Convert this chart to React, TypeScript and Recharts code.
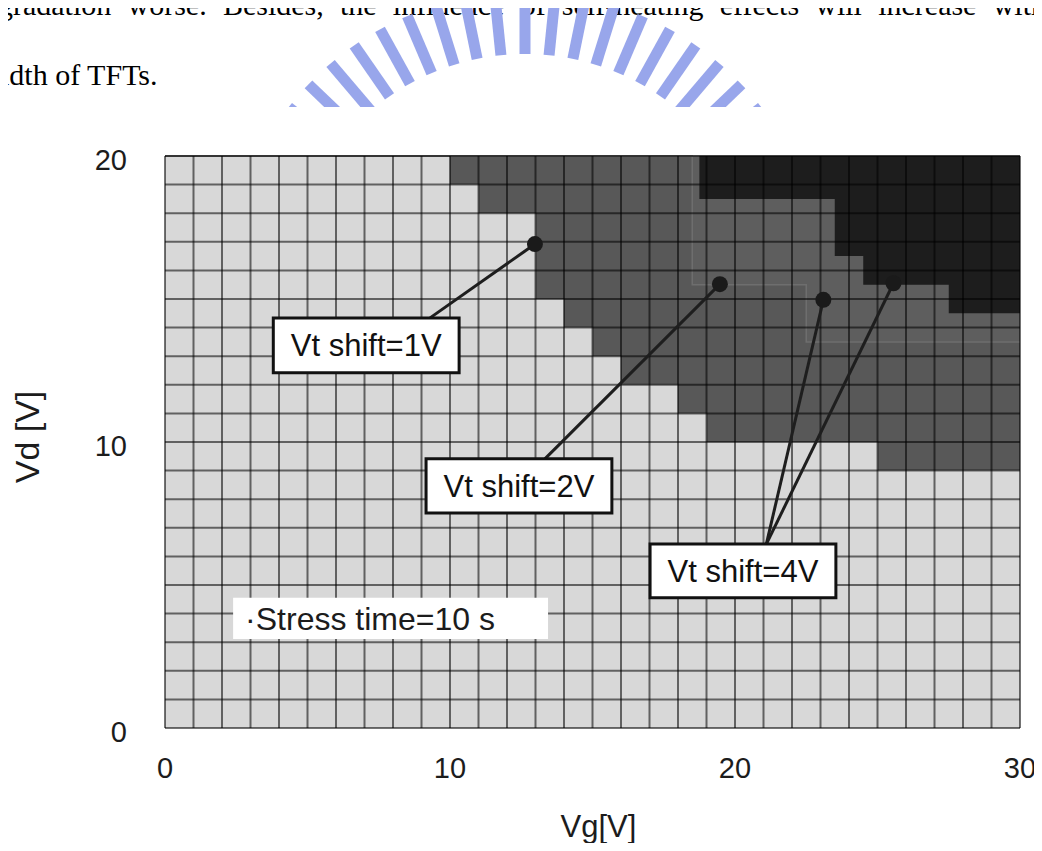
import {
    ComposedChart,
    Area,
    XAxis,
    YAxis,
    CartesianGrid,
    ReferenceArea,
    ReferenceLine,
    ReferenceDot,
} from 'recharts';

const VD_MAX = 20;

// grid / tick positions (1 V steps)
const gridVg = [0, 1, 2, 3, 4, 5, 6, 7, 8, 9, 10, 11, 12, 13, 14, 15, 16, 17, 18, 19, 20, 21, 22, 23, 24, 25, 26, 27, 28, 29, 30];
const gridVd = [0, 1, 2, 3, 4, 5, 6, 7, 8, 9, 10, 11, 12, 13, 14, 15, 16, 17, 18, 19, 20];
const labelledTicks = [0, 10, 20, 30];

// Vd where the Vt shift >= 1V region starts, per 1 V wide Vg column (0-1 ... 29-30)
const shift1Low = [20, 20, 20, 20, 20, 20, 20, 20, 20, 20, 19, 18, 18, 15, 14, 13, 12, 12, 11, 10, 10, 10, 10, 10, 10, 9, 9, 9, 9, 9];
// Vt shift >= 2V region: steps start at these Vg values
const shift2Vg = [18.5, 22.5];
const shift2Low = [15.5, 13.5];
// Vt shift >= 4V region
const shift4Vg = [18.75, 23.5, 24.5, 27.5];
const shift4Low = [18.5, 16.5, 15.5, 14.5];

const callouts = [
    { text: 'Vt shift=1V', x1: 3.8, x2: 10.32, y1: 12.42, y2: 14.34, dots: [[12.98, 16.92]], end: [9.3, 14.34] },
    { text: 'Vt shift=2V', x1: 9.16, x2: 15.68, y1: 7.52, y2: 9.41, dots: [[19.47, 15.52]], end: [13.33, 9.41] },
    { text: 'Vt shift=4V', x1: 17.02, x2: 23.54, y1: 4.55, y2: 6.43, dots: [[23.1, 14.97], [25.56, 15.55]], end: [21.1, 6.43] },
];

const stepValue = (starts: number[], lows: number[], x: number) => {
    let v = VD_MAX;
    starts.forEach((s, i) => {
        if (x >= s) v = lows[i];
    });
    return v;
};

const breakVg = Array.from(new Set([...gridVg, ...shift2Vg, ...shift4Vg])).sort((a, b) => a - b);
const regionData = breakVg.map((vg) => {
    const b1 = shift1Low[Math.min(Math.floor(vg), shift1Low.length - 1)];
    return {
        vg,
        none: [0, b1],
        s1: [b1, VD_MAX],
        s2: [stepValue(shift2Vg, shift2Low, vg), VD_MAX],
        s4: [stepValue(shift4Vg, shift4Low, vg), VD_MAX],
    };
});

const XTick = ({ x, y, payload }: any) =>
    labelledTicks.includes(payload.value) ? (
        <text x={x} y={y + 50} textAnchor="middle" fontSize={29} fill="#1c1c1c">
            {payload.value}
        </text>
    ) : (
        <g />
    );

const YTick = ({ x, y, payload }: any) =>
    labelledTicks.includes(payload.value) ? (
        <text x={x - 38} y={y} dy={14} textAnchor="end" fontSize={29} fill="#1c1c1c">
            {payload.value}
        </text>
    ) : (
        <g />
    );

const pageText = (top: number): React.CSSProperties => ({
    position: 'absolute',
    left: -2,
    top,
    width: 1048,
    fontFamily: '"Liberation Serif", "Times New Roman", serif',
    fontSize: 30,
    lineHeight: '30px',
    color: '#000',
    whiteSpace: 'nowrap',
    textAlign: 'justify',
    textAlignLast: 'justify',
});

const rayAngles = [-142, -136.2, -130.4, -124.7, -118.9, -113.1, -107.3, -101.6, -95.8, -90, -84.2, -78.4, -72.7, -66.9, -61.1, -55.3, -49.6, -43.8, -38];

const App = () => {
    return (
        <div
            style={{
                position: 'relative',
                width: 1042,
                height: 851,
                margin: -8,
                overflow: 'hidden',
                background: '#fff',
                fontFamily: '"Liberation Sans", Arial, Helvetica, sans-serif',
            }}
        >
            <div style={pageText(-10)}>gradation worse. Besides, the influence of self-heating effects will increase with</div>
            <div style={{ ...pageText(60), left: 1, textAlign: 'left', textAlignLast: 'left' }}>idth of TFTs.</div>

            {/* watermark */}
            <svg width={1042} height={107} style={{ position: 'absolute', left: 0, top: 0 }}>
                {rayAngles.map((a) => {
                    const r = (a * Math.PI) / 180;
                    return (
                        <line
                            key={a}
                            x1={525 + 238 * Math.cos(r)}
                            y1={292 + 238 * Math.sin(r)}
                            x2={525 + 300 * Math.cos(r)}
                            y2={292 + 300 * Math.sin(r)}
                            stroke="#98a6eb"
                            strokeWidth={11}
                        />
                    );
                })}
            </svg>

            <div style={{ position: 'absolute', left: 0, top: 0 }}>
                <ComposedChart width={1042} height={851} data={regionData} margin={{ top: 156, right: 22, bottom: 63, left: 105 }}>
                    <XAxis
                        type="number"
                        dataKey="vg"
                        domain={[0, 30]}
                        ticks={gridVg}
                        interval={0}
                        tick={<XTick />}
                        tickLine={false}
                        axisLine={false}
                        tickSize={0}
                        tickMargin={0}
                        height={60}
                        label={{
                            content: ({ viewBox }: any) => (
                                <text x={viewBox.x + viewBox.width / 2 + 6} y={viewBox.y + 109} textAnchor="middle" fontSize={31} fill="#1c1c1c">
                                    Vg[V]
                                </text>
                            ),
                        }}
                    />
                    <YAxis
                        type="number"
                        domain={[0, 20]}
                        ticks={gridVd}
                        interval={0}
                        tick={<YTick />}
                        tickLine={false}
                        axisLine={false}
                        tickSize={0}
                        tickMargin={0}
                        width={60}
                        label={{
                            content: ({ viewBox }: any) => {
                                const cx = viewBox.x - 66;
                                const cy = viewBox.y + viewBox.height / 2 - 5;
                                return (
                                    <text x={cx} y={cy} transform={`rotate(-90 ${cx} ${cy})`} textAnchor="middle" fontSize={34} fill="#1c1c1c">
                                        Vd [V]
                                    </text>
                                );
                            },
                        }}
                    />

                    <Area type="stepAfter" dataKey="none" fill="#d8d8d8" fillOpacity={1} stroke="none" dot={false} activeDot={false} isAnimationActive={false} />
                    <Area type="stepAfter" dataKey="s1" fill="#585858" fillOpacity={1} stroke="none" dot={false} activeDot={false} isAnimationActive={false} />
                    <Area type="stepAfter" dataKey="s2" fill="#5e5e5e" fillOpacity={1} stroke="#6e6e6e" strokeWidth={1.5} dot={false} activeDot={false} isAnimationActive={false} />
                    <Area type="stepAfter" dataKey="s4" fill="#1d1d1d" fillOpacity={1} stroke="none" dot={false} activeDot={false} isAnimationActive={false} />

                    <CartesianGrid stroke="#000" strokeOpacity={0.55} strokeWidth={2} fill="none" {...({ zIndex: 250 } as any)} />

                    <ReferenceArea
                        x1={2.39}
                        x2={13.44}
                        y1={3.11}
                        y2={4.55}
                        fill="#fff"
                        fillOpacity={1}
                        stroke="none"
                        {...({ zIndex: 300 } as any)}
                        label={{ value: '·Stress time=10 s', position: 'insideLeft', offset: 12, fontSize: 32, fill: '#1c1c1c' }}
                    />

                    {callouts.flatMap((c) =>
                        c.dots.map(([dx, dy]) => (
                            <ReferenceLine
                                key={`l-${c.text}-${dx}`}
                                segment={[
                                    { x: dx, y: dy },
                                    { x: c.end[0], y: c.end[1] },
                                ]}
                                stroke="#1e1e1e"
                                strokeWidth={3}
                                {...({ zIndex: 400 } as any)}
                            />
                        ))
                    )}
                    {callouts.flatMap((c) =>
                        c.dots.map(([dx, dy]) => (
                            <ReferenceDot key={`d-${c.text}-${dx}`} x={dx} y={dy} r={8} fill="#1a1a1a" stroke="none" {...({ zIndex: 450 } as any)} />
                        ))
                    )}
                    {callouts.map((c) => (
                        <ReferenceArea
                            key={c.text}
                            x1={c.x1}
                            x2={c.x2}
                            y1={c.y1}
                            y2={c.y2}
                            fill="#fff"
                            fillOpacity={1}
                            stroke="#111"
                            strokeWidth={3}
                            {...({ zIndex: 500 } as any)}
                            label={{ value: c.text, position: 'center', fontSize: 31, fill: '#111' }}
                        />
                    ))}
                </ComposedChart>
            </div>
        </div>
    );
};

export default App;
